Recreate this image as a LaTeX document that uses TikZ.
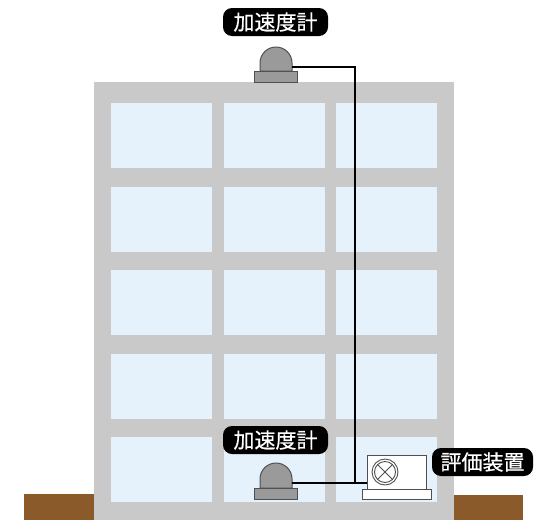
\documentclass[tikz,border=0pt]{standalone}
\usepackage{fontspec}
\newfontfamily\jpfont[FakeBold=0.6]{Noto Sans CJK JP}
\definecolor{wall}{HTML}{C9C9C9}
\definecolor{glass}{HTML}{E5F2FB}
\definecolor{soil}{HTML}{8A5A2B}
\definecolor{sensorfill}{HTML}{9A9A9A}
\definecolor{sensorline}{HTML}{4F4F4F}
\tikzset{
  tag/.style={fill=black, text=white, rounded corners=9pt, minimum height=28pt,
    minimum width=105pt, inner xsep=6pt, inner ysep=0pt, font=\jpfont\fontsize{21}{21}\selectfont},
  pane/.style={fill=glass, draw=none},
  sensor/.style={fill=sensorfill, draw=sensorline, line width=1pt},
  unit/.style={fill=white, draw=sensorline, line width=1pt},
  cable/.style={draw=black, line width=1.6pt}
}
\begin{document}
\begin{tikzpicture}[x=1pt,y=1pt]
\useasboundingbox (0,0) rectangle (538,-520);
% ground on both sides
\fill[soil] (24,-494) rectangle (95,-520);
\fill[soil] (453,-495) rectangle (523,-520);
% building body
\fill[wall] (94,-82) rectangle (454,-520);
% window grid
\foreach \x in {111,224,336}{
  \foreach \y in {103,187,270,354,437}{
    \path[pane] (\x,-\y) rectangle ++(101,-65);
  }
}
% roof accelerometer
\path[sensor] (254,-71) rectangle (297,-82);
\path[sensor] (260,-71) -- (260,-63) arc (180:0:16) -- (292,-71) -- cycle;
\coordinate (acctop) at (292,-67);
% ground-floor accelerometer
\path[sensor] (254,-488) rectangle (297,-499);
\path[sensor] (260,-488) -- (260,-479) arc (180:0:16) -- (292,-488) -- cycle;
\coordinate (accbottom) at (292,-483);
% evaluation unit
\path[unit] (362,-489) rectangle (431,-499);
\path[unit] (367,-455) rectangle (426,-489);
\draw[sensorline, line width=0.9pt] (385,-472) circle (13) circle (10.5);
\draw[sensorline, line width=0.9pt] (385,-472) ++(45:10.5) -- ++(225:21)
  (385,-472) ++(135:10.5) -- ++(315:21);
\coordinate (unitin) at (367,-483);
\coordinate (riser) at (355,-483);
% cabling
\draw[cable] (acctop) -| (riser);
\draw[cable] (accbottom) -- (unitin);
% labels
\node[tag] (lbltop) at (275.5,-22) {加速度計};
\node[tag] (lblbottom) at (275.5,-440) {加速度計};
\node[tag, minimum width=101pt] (lblunit) at (482.5,-462) {評価装置};
\end{tikzpicture}
\end{document}
